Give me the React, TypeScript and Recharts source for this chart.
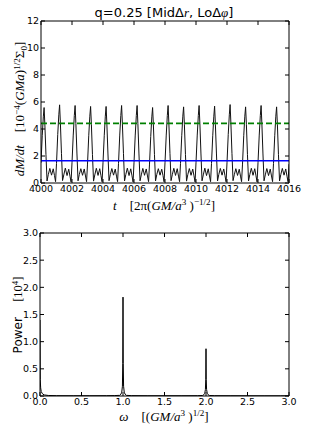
import React from 'react';
import { LineChart, Line, XAxis, YAxis, ReferenceLine } from 'recharts';

// top panel: accretion rate vs time
const timeTicks = [4000, 4002, 4004, 4006, 4008, 4010, 4012, 4014, 4016];
const rateTicks = [0, 2, 4, 6, 8, 10, 12];
const periodStarts = [4000, 4001, 4002, 4003, 4004, 4005, 4006, 4007, 4008, 4009, 4010, 4011, 4012, 4013, 4014, 4015];
const phaseOffsets = [0, 0.08, 0.15, 0.2, 0.25, 0.32, 0.39, 0.47, 0.57, 0.68, 0.79, 0.87, 0.94];
const dmdtRows = [
  [1.5, 3.5, 4.9, 5.59, 4.3, 2.1, 0.15, 0.62, 1.08, 0.58, 1.05, 0.55, 0.1],
  [1.45, 3.6, 5.05, 5.79, 4.45, 2.2, 0.18, 0.6, 1.1, 0.55, 1.02, 0.5, 0.08],
  [1.5, 3.55, 5.0, 5.74, 4.4, 2.15, 0.16, 0.63, 1.06, 0.57, 1.04, 0.52, 0.1],
  [1.4, 3.5, 4.95, 5.67, 4.35, 2.1, 0.14, 0.6, 1.09, 0.56, 1.06, 0.54, 0.09],
  [1.5, 3.5, 4.95, 5.67, 4.35, 2.15, 0.17, 0.61, 1.07, 0.58, 1.03, 0.51, 0.1],
  [1.45, 3.55, 5.0, 5.74, 4.4, 2.2, 0.15, 0.62, 1.1, 0.55, 1.05, 0.53, 0.08],
  [1.5, 3.55, 5.0, 5.74, 4.4, 2.15, 0.16, 0.6, 1.08, 0.57, 1.04, 0.52, 0.1],
  [1.4, 3.45, 4.9, 5.59, 4.3, 2.1, 0.15, 0.63, 1.06, 0.58, 1.02, 0.55, 0.09],
  [1.5, 3.55, 5.0, 5.74, 4.4, 2.2, 0.17, 0.61, 1.09, 0.56, 1.06, 0.51, 0.1],
  [1.45, 3.5, 4.95, 5.64, 4.35, 2.1, 0.14, 0.62, 1.07, 0.57, 1.03, 0.53, 0.08],
  [1.5, 3.55, 5.0, 5.74, 4.4, 2.15, 0.16, 0.6, 1.1, 0.55, 1.05, 0.52, 0.1],
  [1.45, 3.5, 4.95, 5.69, 4.35, 2.15, 0.15, 0.63, 1.08, 0.58, 1.04, 0.54, 0.09],
  [1.5, 3.6, 5.05, 5.81, 4.45, 2.2, 0.17, 0.61, 1.06, 0.56, 1.02, 0.51, 0.1],
  [1.4, 3.5, 4.95, 5.64, 4.35, 2.1, 0.15, 0.62, 1.09, 0.57, 1.06, 0.53, 0.08],
  [1.5, 3.55, 5.0, 5.74, 4.4, 2.15, 0.16, 0.6, 1.07, 0.55, 1.03, 0.52, 0.1],
  [1.45, 3.5, 4.95, 5.64, 4.35, 2.1, 0.15, 0.62, 1.08, 0.58, 1.04, 0.5, 0.09],
];
const endTime = 4016;
const endRate = 1.4;
const greenLevel = 4.42;
const blueLevel = 1.65;

// bottom panel: power spectrum
const omegaTicks = [0, 0.5, 1, 1.5, 2, 2.5, 3];
const powerTicks = [0, 0.5, 1, 1.5, 2, 2.5, 3];
const omegaValues = [
  0, 0.003, 0.008, 0.015, 0.03, 0.05, 0.1, 0.2, 0.4, 0.6, 0.8, 0.9, 0.96, 0.975, 0.985, 0.993, 0.997, 1.0,
  1.003, 1.007, 1.015, 1.025, 1.04, 1.1, 1.3, 1.5, 1.7, 1.9, 1.96, 1.975, 1.985, 1.993, 1.997, 2.0,
  2.003, 2.007, 2.015, 2.025, 2.04, 2.1, 2.3, 2.5, 2.7, 2.9, 3.0,
];
const powerValues = [
  1.4, 0.3, 0.15, 0.08, 0.04, 0.02, 0.01, 0.006, 0.005, 0.005, 0.006, 0.008, 0.012, 0.035, 0.07, 0.18, 0.6, 1.82,
  0.6, 0.18, 0.07, 0.035, 0.012, 0.007, 0.005, 0.005, 0.005, 0.006, 0.01, 0.025, 0.05, 0.12, 0.3, 0.87,
  0.3, 0.12, 0.05, 0.025, 0.01, 0.006, 0.005, 0.004, 0.004, 0.004, 0.004,
];

const seriesData = periodStarts
  .flatMap((t0, i) => phaseOffsets.map((dt, j) => ({ t: t0 + dt, rate: dmdtRows[i][j] })))
  .concat([{ t: endTime, rate: endRate }]);

const spectrumData = omegaValues.map((w, i) => ({ omega: w, power: powerValues[i] }));

const tickFont = { fontFamily: 'DejaVu Sans', fontSize: 9.5, fill: '#000' };
const black = { stroke: '#000' };
const blank = () => '';
const math = { fontFamily: 'Liberation Serif', fontStyle: 'italic' as const };

const Positioned = ({ x, y, rotate = 0, children, style }: any) => (
  <div
    style={{
      position: 'absolute',
      left: x,
      top: y,
      transform: `translate(-50%, -50%) rotate(${rotate}deg)`,
      whiteSpace: 'nowrap',
      color: '#000',
      lineHeight: 1,
      ...style,
    }}
  >
    {children}
  </div>
);

const sup = { fontSize: '0.7em', verticalAlign: '0.5em' };
const sub = { fontSize: '0.7em', verticalAlign: '-0.3em' };

export default function App() {
  return (
    <div style={{ position: 'absolute', left: 0, top: 0, width: 321, height: 426, background: '#fff', overflow: 'hidden' }}>
      <div style={{ position: 'absolute', left: 0, top: 0 }}>
        <LineChart width={321} height={213} data={seriesData} margin={{ top: 0, right: 0, bottom: 0, left: 0 }}>
          <XAxis dataKey="t" type="number" domain={[4000, 4016]} ticks={timeTicks} interval={0} height={30}
            tickSize={-4} tickMargin={6} tick={tickFont} axisLine={black} tickLine={black} allowDataOverflow />
          <XAxis xAxisId="top" dataKey="t" orientation="top" type="number" domain={[4000, 4016]} ticks={timeTicks} interval={0} height={21}
            tickSize={-4} tickFormatter={blank} axisLine={black} tickLine={black} allowDataOverflow />
          <YAxis type="number" domain={[0, 12]} ticks={rateTicks} interval={0} width={41}
            tickSize={-4} tickMargin={6} tick={tickFont} axisLine={black} tickLine={black} allowDataOverflow />
          <YAxis yAxisId="right" orientation="right" type="number" domain={[0, 12]} ticks={rateTicks} interval={0} width={32}
            tickSize={-4} tickFormatter={blank} axisLine={black} tickLine={black} allowDataOverflow />
          <Line dataKey="rate" type="linear" stroke="#111" strokeWidth={1} dot={false} isAnimationActive={false} />
          <ReferenceLine y={greenLevel} stroke="#008000" strokeWidth={1.6} strokeDasharray="6 3" />
          <ReferenceLine y={blueLevel} stroke="#0000ff" strokeWidth={1.6} />
        </LineChart>
      </div>
      <div style={{ position: 'absolute', left: 0, top: 213 }}>
        <LineChart width={321} height={213} data={spectrumData} margin={{ top: 0, right: 0, bottom: 0, left: 0 }}>
          <XAxis dataKey="omega" type="number" domain={[0, 3]} ticks={omegaTicks} interval={0} height={30}
            tickSize={-4} tickMargin={6} tick={tickFont} tickFormatter={(v: number) => v.toFixed(1)}
            axisLine={black} tickLine={black} allowDataOverflow />
          <XAxis xAxisId="top" dataKey="omega" orientation="top" type="number" domain={[0, 3]} ticks={omegaTicks} interval={0} height={20}
            tickSize={-4} tickFormatter={blank} axisLine={black} tickLine={black} allowDataOverflow />
          <YAxis type="number" domain={[0, 3]} ticks={powerTicks} interval={0} width={40}
            tickSize={-4} tickMargin={6} tick={tickFont} tickFormatter={(v: number) => v.toFixed(1)}
            axisLine={black} tickLine={black} allowDataOverflow />
          <YAxis yAxisId="right" orientation="right" type="number" domain={[0, 3]} ticks={powerTicks} interval={0} width={32}
            tickSize={-4} tickFormatter={blank} axisLine={black} tickLine={black} allowDataOverflow />
          <Line dataKey="power" type="linear" stroke="#000" strokeWidth={1} dot={false} isAnimationActive={false} />
        </LineChart>
      </div>

      <Positioned x={164} y={12} style={{ fontFamily: 'DejaVu Sans', fontSize: 13 }}>
        q=0.25 [MidΔ<span style={math}>r</span>, LoΔ<span style={math}>φ</span>]
      </Positioned>
      <Positioned x={21} y={109} rotate={-90} style={{ fontFamily: 'Liberation Serif', fontSize: 13 }}>
        <span style={math}>dM/dt</span>&nbsp;&nbsp;&nbsp;&nbsp;[10<span style={sup}>−4</span>(<span style={math}>GMa</span>)<span style={sup}>1/2</span>Σ<span style={sub}>0</span>]
      </Positioned>
      <Positioned x={164} y={205} style={{ fontFamily: 'Liberation Serif', fontSize: 13 }}>
        <span style={math}>t</span>&nbsp;&nbsp;&nbsp;&nbsp;[2π(<span style={math}>GM/a</span><span style={sup}>3</span>&nbsp;)<span style={sup}>−1/2</span>]
      </Positioned>
      <Positioned x={18} y={315} rotate={-90} style={{ fontFamily: 'DejaVu Sans', fontSize: 12 }}>
        Power&nbsp;&nbsp;&nbsp;&nbsp;<span style={{ fontFamily: 'Liberation Serif', fontSize: 12.5 }}>[10<span style={sup}>4</span>]</span>
      </Positioned>
      <Positioned x={164} y={416} style={{ fontFamily: 'Liberation Serif', fontSize: 13 }}>
        <span style={math}>ω</span>&nbsp;&nbsp;&nbsp;&nbsp;[(<span style={math}>GM/a</span><span style={sup}>3</span>&nbsp;)<span style={sup}>1/2</span>]
      </Positioned>
    </div>
  );
}
